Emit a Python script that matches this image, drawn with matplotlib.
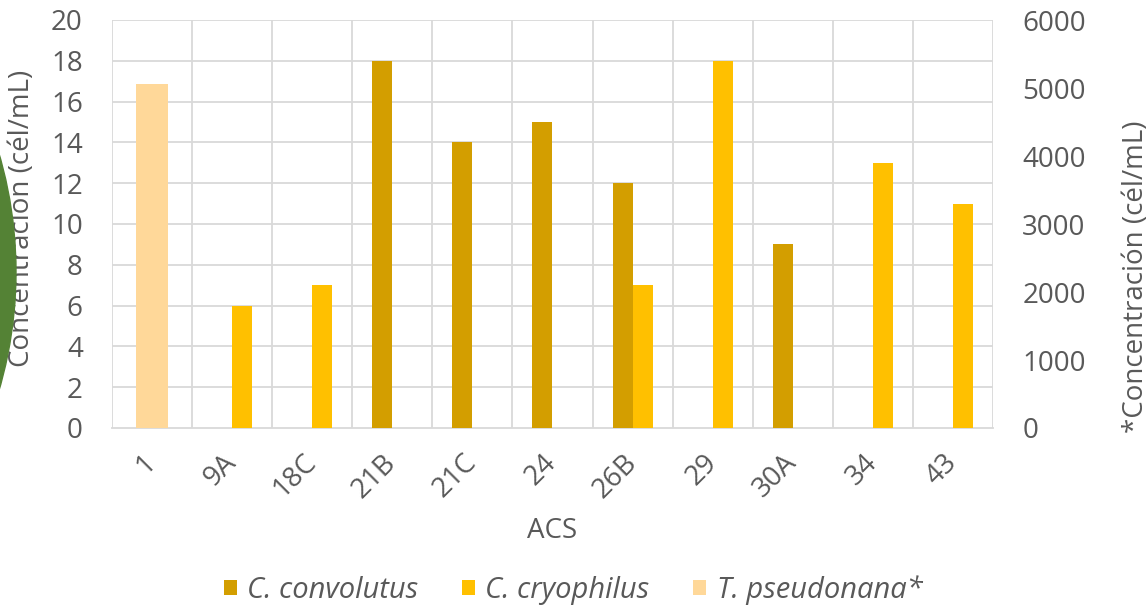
import numpy as np
import matplotlib.pyplot as plt
from matplotlib.patches import Ellipse

# data
categories = ['1', '9A', '18C', '21B', '21C', '24', '26B', '29', '30A', '34', '43']
convolutus = [0, 0, 0, 18, 14, 15, 12, 0, 9, 0, 0]
cryophilus = [0, 6, 7, 0, 0, 0, 7, 18, 0, 13, 11]
pseudonana = [5060, 0, 0, 0, 0, 0, 0, 0, 0, 0, 0]  # secondary axis

c_conv = '#D39E00'
c_cryo = '#FFC000'
c_pseu = '#FFD899'
grid_c = '#D9D9D9'
txt_c = '#595959'
fs = 20

plt.rcParams['font.family'] = ['Open Sans', 'DejaVu Sans']

fig = plt.figure(figsize=(11.48, 6.10), dpi=100)

# green decoration peeking in from the left edge
fig.patches.append(Ellipse((-405 / 1148, 1 - 272 / 610), 2 * 421 / 1148, 2 * 421 / 610,
                           transform=fig.transFigure, color='#548235', zorder=0))

ax = fig.add_axes([112 / 1148, 1 - 428 / 610, (993 - 112) / 1148, (428 - 20) / 610])
ax2 = ax.twinx()

x = np.arange(len(categories))
w = 0.25
ax.bar(x - w / 2, convolutus, w, color=c_conv, label='C. convolutus', zorder=3)
ax.bar(x + w / 2, cryophilus, w, color=c_cryo, label='C. cryophilus', zorder=3)
ax2.bar(x, pseudonana, 0.4, color=c_pseu, label='T. pseudonana*', zorder=3)

ax.set_xlim(-0.5, len(categories) - 0.5)
ax.set_ylim(0, 20)
ax2.set_ylim(0, 6000)
ax.set_yticks(range(0, 21, 2))
ax2.set_yticks(range(0, 6001, 1000))

# gridlines: horizontal every 2, vertical at category borders
for yv in range(2, 21, 2):
    ax.axhline(yv, color=grid_c, lw=1.3, zorder=1)
for xv in np.arange(-0.5, len(categories), 1):
    ax.axvline(xv, color=grid_c, lw=1.3, zorder=1)

for a in (ax, ax2):
    for s in a.spines.values():
        s.set_visible(False)
ax.spines['bottom'].set_visible(True)
ax.spines['bottom'].set_color(grid_c)
ax.spines['bottom'].set_linewidth(1.3)

ax.set_xticks(x)
ax.set_xticklabels(categories, rotation=45, ha='right', va='center', rotation_mode='anchor')
ax.tick_params(axis='x', length=0, pad=22, labelsize=fs, labelcolor=txt_c)
ax.tick_params(axis='y', length=0, pad=21, labelsize=fs, labelcolor=txt_c)
ax2.tick_params(axis='y', length=0, pad=21, labelsize=fs, labelcolor=txt_c)

ax.set_ylabel('Concentración (cél/mL)', fontsize=fs, color=txt_c)
ax2.set_ylabel('*Concentración (cél/mL)', fontsize=fs, color=txt_c)
ax.yaxis.set_label_coords(-0.086, 0.515)
ax2.yaxis.set_label_coords(1.146, 0.37)
ax.set_xlabel('ACS', fontsize=fs, color=txt_c)
ax.xaxis.set_label_coords(0.5, -0.218)

h1, l1 = ax.get_legend_handles_labels()
h2, l2 = ax2.get_legend_handles_labels()
fig.legend(h1 + h2, l1 + l2, loc='center', bbox_to_anchor=(573 / 1148, 1 - 590 / 610),
           ncol=3, frameon=False, prop={'style': 'italic', 'size': fs + 1},
           labelcolor=txt_c, handlelength=0.45, handleheight=0.45, handletextpad=0.35,
           columnspacing=1.5)

fig.savefig('out.png', dpi=100)
